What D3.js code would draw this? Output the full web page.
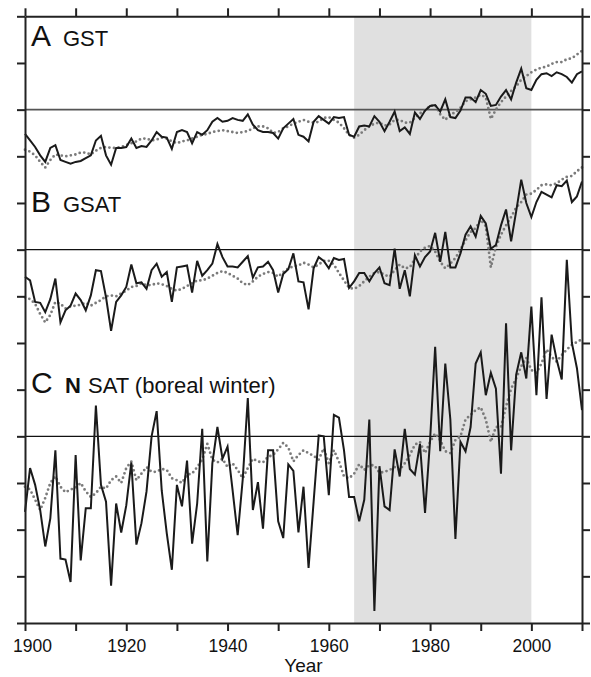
<!DOCTYPE html>
<html>
<head>
<meta charset="utf-8">
<script src="https://cdn.jsdelivr.net/npm/d3@7"></script>
<style>
  body { margin: 0; background: #fff; }
  svg { display: block; font-family: "Liberation Sans", Arial, Helvetica, sans-serif; }
  .axis path, .axis line { stroke: #222; stroke-width: 2; }
</style>
</head>
<body>
<svg id="chart" width="591" height="677"></svg>
<script>
"use strict"

// years 1900..2010, anomalies in degC (one y tick = 0.5 degC)
var years = d3.range(1900, 2011);
var xTicks = d3.range(1900, 2011, 10);
var xTickLabels = [1900, 1920, 1940, 1960, 1980, 2000];
var shadedPeriod = [1965, 2000];

// A: GST, observed (solid) and model (dotted)
var gstObs = [
  -0.26, -0.33, -0.40, -0.49, -0.56, -0.41, -0.38, -0.54, -0.56, -0.58,
  -0.56, -0.55, -0.52, -0.49, -0.33, -0.28, -0.49, -0.59, -0.41, -0.41,
  -0.40, -0.31, -0.41, -0.39, -0.40, -0.33, -0.24, -0.29, -0.30, -0.42,
  -0.24, -0.22, -0.24, -0.36, -0.24, -0.27, -0.22, -0.13, -0.09, -0.13,
  -0.12, -0.09, -0.11, -0.12, -0.05, -0.16, -0.22, -0.24, -0.24, -0.25,
  -0.31, -0.20, -0.15, -0.10, -0.27, -0.29, -0.34, -0.13, -0.07, -0.11,
  -0.15, -0.08, -0.09, -0.08, -0.27, -0.29, -0.18, -0.17, -0.18, -0.07,
  -0.13, -0.23, -0.13, -0.02, -0.23, -0.19, -0.26, -0.03, -0.10, -0.01,
  0.04, 0.05, -0.02, 0.11, -0.08, -0.09, -0.01, 0.13, 0.13, 0.08,
  0.21, 0.17, 0.04, 0.05, 0.14, 0.21, 0.11, 0.29, 0.44, 0.23,
  0.21, 0.32, 0.38, 0.39, 0.36, 0.40, 0.38, 0.35, 0.29, 0.38, 0.41
];
var gstMod = [
  -0.43, -0.45, -0.49, -0.56, -0.62, -0.54, -0.48, -0.49, -0.50, -0.49,
  -0.48, -0.46, -0.46, -0.48, -0.44, -0.41, -0.40, -0.41, -0.41, -0.40,
  -0.38, -0.36, -0.34, -0.31, -0.31, -0.33, -0.32, -0.30, -0.31, -0.34,
  -0.36, -0.34, -0.33, -0.31, -0.29, -0.27, -0.26, -0.24, -0.23, -0.22,
  -0.23, -0.24, -0.25, -0.24, -0.23, -0.20, -0.18, -0.18, -0.20, -0.25,
  -0.24, -0.20, -0.18, -0.15, -0.13, -0.11, -0.13, -0.14, -0.13, -0.09,
  -0.08, -0.11, -0.14, -0.20, -0.27, -0.30, -0.27, -0.22, -0.18, -0.15,
  -0.14, -0.17, -0.16, -0.11, -0.11, -0.14, -0.14, -0.09, -0.04, -0.01,
  0.04, 0.05, -0.05, -0.11, -0.05, -0.03, 0.02, 0.09, 0.11, 0.13,
  0.16, 0.13, -0.10, 0.00, 0.08, 0.14, 0.20, 0.25, 0.32, 0.36,
  0.40, 0.43, 0.45, 0.46, 0.49, 0.51, 0.51, 0.54, 0.55, 0.59, 0.63
];

// B: GSAT
var gsatObs = [
  -0.29, -0.33, -0.56, -0.57, -0.67, -0.53, -0.31, -0.78, -0.65, -0.60,
  -0.47, -0.54, -0.65, -0.49, -0.22, -0.23, -0.51, -0.87, -0.56, -0.49,
  -0.40, -0.16, -0.36, -0.35, -0.42, -0.22, -0.15, -0.29, -0.24, -0.56,
  -0.19, -0.18, -0.17, -0.46, -0.12, -0.28, -0.22, -0.15, 0.06, -0.08,
  -0.18, -0.18, -0.19, -0.13, -0.07, -0.30, -0.19, -0.18, -0.13, -0.22,
  -0.46, -0.26, -0.21, -0.04, -0.34, -0.35, -0.64, -0.20, -0.08, -0.12,
  -0.20, -0.09, -0.11, -0.10, -0.41, -0.34, -0.25, -0.25, -0.34, -0.25,
  -0.19, -0.36, -0.38, 0.01, -0.42, -0.22, -0.50, -0.06, -0.18, -0.08,
  -0.02, 0.18, -0.13, 0.19, -0.19, -0.19, -0.04, 0.16, 0.25, 0.14,
  0.36, 0.28, 0.01, 0.05, 0.26, 0.43, 0.09, 0.41, 0.75, 0.50,
  0.35, 0.51, 0.62, 0.59, 0.56, 0.69, 0.68, 0.74, 0.51, 0.57, 0.73
];
var gsatMod = [
  -0.51, -0.53, -0.58, -0.69, -0.78, -0.70, -0.56, -0.58, -0.63, -0.61,
  -0.60, -0.59, -0.57, -0.60, -0.57, -0.54, -0.50, -0.49, -0.50, -0.47,
  -0.44, -0.40, -0.39, -0.36, -0.38, -0.38, -0.36, -0.37, -0.39, -0.42,
  -0.44, -0.42, -0.39, -0.36, -0.33, -0.33, -0.31, -0.28, -0.25, -0.23,
  -0.25, -0.28, -0.31, -0.36, -0.38, -0.34, -0.29, -0.26, -0.24, -0.25,
  -0.29, -0.24, -0.20, -0.18, -0.17, -0.14, -0.16, -0.19, -0.16, -0.12,
  -0.12, -0.16, -0.25, -0.33, -0.41, -0.42, -0.39, -0.34, -0.29, -0.25,
  -0.24, -0.27, -0.29, -0.22, -0.16, -0.20, -0.19, -0.10, -0.02, 0.02,
  0.04, -0.02, -0.13, -0.20, -0.15, -0.09, 0.00, 0.10, 0.19, 0.23,
  0.32, 0.25, -0.19, 0.03, 0.16, 0.26, 0.35, 0.45, 0.51, 0.59,
  0.60, 0.64, 0.69, 0.70, 0.69, 0.71, 0.75, 0.78, 0.79, 0.84, 0.88
];

// C: N SAT (boreal winter)
var nsatObs = [
  -0.81, -0.34, -0.52, -0.79, -1.18, -0.88, -0.15, -1.31, -1.32, -1.56,
  -0.20, -1.33, -0.77, -0.77, 0.33, -0.52, -0.70, -1.60, -0.72, -1.03,
  -0.74, -0.28, -1.16, -0.93, -0.59, 0.00, 0.27, -0.58, -1.04, -1.43,
  -0.52, -0.75, -0.26, -1.15, -0.72, 0.08, -1.34, -0.29, 0.10, -0.24,
  -0.11, -0.58, -1.06, -0.46, 0.41, -0.79, -0.49, -0.99, -0.15, -0.15,
  -0.91, -1.09, -0.30, -0.37, -1.03, -0.54, -1.41, -0.70, 0.01, 0.00,
  -0.63, 0.23, 0.20, -0.15, -0.65, -0.65, -0.91, -0.68, 0.18, -1.87,
  -0.32, -0.75, -0.79, -0.14, -0.43, 0.08, -0.35, -0.41, -0.08, -0.82,
  -0.04, 0.96, -0.16, 0.78, 0.18, -1.10, -0.06, -0.16, 0.10, 0.78,
  0.90, 0.44, 0.68, 0.51, -0.40, 1.21, -0.15, 0.66, 0.90, 0.62,
  1.39, 0.44, 1.49, 0.40, 1.09, 0.82, 0.61, 1.89, 1.00, 0.73, 0.28
];
var nsatMod = [
  -0.54, -0.57, -0.68, -0.79, -0.66, -0.50, -0.43, -0.54, -0.60, -0.57,
  -0.55, -0.50, -0.59, -0.65, -0.61, -0.54, -0.56, -0.47, -0.43, -0.50,
  -0.34, -0.27, -0.47, -0.40, -0.33, -0.38, -0.38, -0.35, -0.36, -0.45,
  -0.47, -0.50, -0.41, -0.40, -0.33, -0.25, -0.08, -0.25, -0.28, -0.24,
  -0.33, -0.29, -0.36, -0.45, -0.34, -0.24, -0.27, -0.28, -0.22, -0.20,
  -0.14, -0.07, -0.12, -0.27, -0.20, -0.15, -0.18, -0.21, -0.25, -0.13,
  -0.29, -0.15, -0.27, -0.43, -0.45, -0.40, -0.30, -0.36, -0.31, -0.31,
  -0.39, -0.38, -0.36, -0.33, -0.36, -0.29, -0.20, -0.09, -0.06, -0.18,
  -0.06, 0.03, -0.04, -0.16, -0.18, -0.04, 0.00, 0.18, 0.23, 0.28,
  0.31, 0.18, -0.06, 0.10, 0.10, 0.32, 0.51, 0.62, 0.75, 0.84,
  0.71, 0.68, 0.78, 0.93, 0.85, 0.80, 0.87, 0.93, 0.98, 1.01, 1.04
];

// vertical offset of each panel's zero line (degC on the shared axis)
var panels = [
  { letter: "A", offset: 5.5, obs: gstObs, mod: gstMod, zeroColor: "#555", zeroWidth: 1.6 },
  { letter: "B", offset: 4.0, obs: gsatObs, mod: gsatMod, zeroColor: "#111", zeroWidth: 1.2 },
  { letter: "C", offset: 2.0, obs: nsatObs, mod: nsatMod, zeroColor: "#111", zeroWidth: 1.2 }
];

var svg = d3.select("#chart");
var plotLeft = 25, plotRight = 582, plotTop = 16.3, plotBottom = 623;

var x = d3.scaleLinear().domain([1900, 2010]).range([plotLeft, plotRight]);
var y = d3.scaleLinear().domain([0, 6.5]).range([plotBottom, plotTop]);
var yTicks = d3.range(0, 6.51, 0.5);

// grey period
svg.append("rect")
  .attr("x", x(shadedPeriod[0]))
  .attr("y", plotTop)
  .attr("width", x(shadedPeriod[1]) - x(shadedPeriod[0]))
  .attr("height", plotBottom - plotTop)
  .attr("fill", "#e0e0e0");

// zero lines
panels.forEach(function(p) {
  svg.append("line")
    .attr("x1", plotLeft).attr("x2", plotRight)
    .attr("y1", y(p.offset)).attr("y2", y(p.offset))
    .attr("stroke", p.zeroColor)
    .attr("stroke-width", p.zeroWidth);
});

panels.forEach(function(p) {
  var line = d3.line()
    .x(function(d, i) { return x(years[i]); })
    .y(function(d) { return y(p.offset + d); });

  svg.append("path")
    .datum(p.mod)
    .attr("d", line)
    .attr("fill", "none")
    .attr("stroke", "#7b7b7b")
    .attr("stroke-width", 2.8)
    .attr("stroke-linecap", "round")
    .attr("stroke-dasharray", "0 4.6");

  svg.append("path")
    .datum(p.obs)
    .attr("d", line)
    .attr("fill", "none")
    .attr("stroke", "#1a1a1a")
    .attr("stroke-width", 2)
    .attr("stroke-linejoin", "miter");
});

// axes on all four sides
svg.append("g").attr("class", "axis")
  .attr("transform", "translate(0," + plotBottom + ")")
  .call(d3.axisBottom(x).tickValues(xTicks).tickSize(8).tickSizeOuter(0)
    .tickFormat(function(d) { return xTickLabels.indexOf(d) >= 0 ? d : ""; }))
  .call(function(g) {
    g.selectAll("text")
      .attr("font-size", 17.5)
      .attr("font-family", "Liberation Sans, Arial, sans-serif")
      .attr("fill", "#111")
      .attr("dy", "1.05em")
      .attr("dx", function(d) { return d === 1900 ? 7 : 0; });
  });

svg.append("g").attr("class", "axis")
  .attr("transform", "translate(0," + plotTop + ")")
  .call(d3.axisTop(x).tickValues(xTicks).tickSize(8).tickSizeOuter(0).tickFormat(""));

svg.append("g").attr("class", "axis")
  .attr("transform", "translate(" + plotLeft + ",0)")
  .call(d3.axisLeft(y).tickValues(yTicks).tickSize(8).tickSizeOuter(0).tickFormat(""));

svg.append("g").attr("class", "axis")
  .attr("transform", "translate(" + plotRight + ",0)")
  .call(d3.axisRight(y).tickValues(yTicks).tickSize(8).tickSizeOuter(0).tickFormat(""));

svg.append("text")
  .attr("x", (plotLeft + plotRight) / 2)
  .attr("y", 672)
  .attr("text-anchor", "middle")
  .attr("font-size", 19)
  .attr("fill", "#111")
  .text("Year");

// panel labels
var labelY = [46, 212, 393];
panels.forEach(function(p, i) {
  svg.append("text")
    .attr("x", 31).attr("y", labelY[i])
    .attr("font-size", 30)
    .attr("fill", "#111")
    .text(p.letter);
});

svg.append("text").attr("x", 63).attr("y", 46)
  .attr("font-size", 22).attr("fill", "#111").text("GST");
svg.append("text").attr("x", 63).attr("y", 212)
  .attr("font-size", 22).attr("fill", "#111").text("GSAT");

var c = svg.append("text").attr("x", 65).attr("y", 393)
  .attr("font-size", 22).attr("fill", "#111");
c.append("tspan").attr("font-weight", "bold").text("N");
c.append("tspan").attr("x", 88).text("SAT (boreal winter)");
</script>
</body>
</html>
